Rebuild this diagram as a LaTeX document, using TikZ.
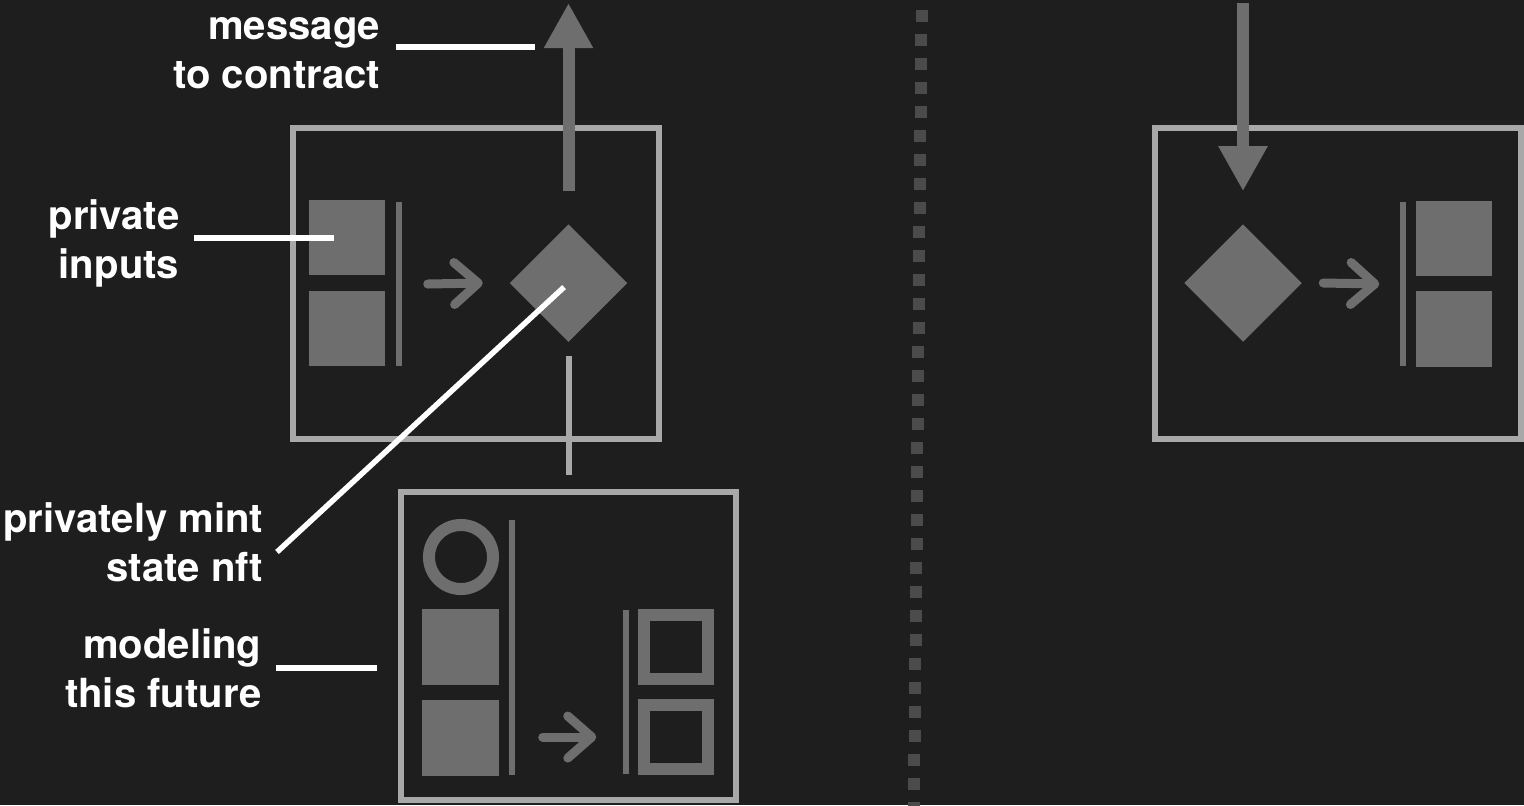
\documentclass[tikz,border=0pt]{standalone}
\usepackage{fontspec}
\newfontfamily\labelfont{TeX Gyre Heros}
\usepackage{xcolor}
\usetikzlibrary{arrows.meta,positioning,shapes.geometric}

\definecolor{bgc}{HTML}{1E1E1E}
\definecolor{framec}{HTML}{A8A8A8}
\definecolor{shapec}{HTML}{6E6E6E}
\definecolor{dotc}{HTML}{4B4B4B}

\begin{document}
\begin{tikzpicture}[x=0.01cm,y=-0.01cm,
  lbl/.style={text=white,font=\labelfont\bfseries\fontsize{11.4pt}{13.8pt}\selectfont,align=right,inner sep=0pt,anchor=base east},
  frame/.style={draw=framec,line width=0.06cm,inner sep=0pt,minimum width=3.66cm,minimum height=3.11cm},
  blk/.style={fill=shapec,inner sep=0pt,minimum width=0.76cm,minimum height=0.76cm},
  hollow/.style={draw=shapec,line width=0.12cm,inner sep=0pt,minimum size=0.64cm},
  bar/.style={fill=shapec,inner sep=0pt,minimum width=0.06cm},
  gem/.style={diamond,fill=shapec,inner sep=0pt,minimum width=1.18cm,minimum height=1.18cm},
  nudge/.style={draw=shapec,line width=0.09cm,line cap=round,-{Straight Barb[round,length=0.24cm,width=0.42cm]}},
  flow/.style={draw=shapec,line width=0.12cm,-{Triangle[length=0.45cm,width=0.46cm]}},
  lead/.style={draw=white,line width=0.055cm},
  link/.style={draw=framec,line width=0.06cm}]
 \fill[bgc] (0,0) rectangle (1524,805);
 \useasboundingbox (0,0) rectangle (1524,805);
 % divider
 \foreach \i in {0,...,33}
   \fill[dotc] ({915.5-7.5*\i/33},{10+24*\i}) rectangle ++(12,12);
 % proving side
 \node[frame] (prove) at (476,283.5) {};
 \node[blk,minimum height=0.75cm] (inP1) at (347,237.5) {};
 \node[blk,minimum height=0.75cm] (inP2) at (347,328.5) {};
 \node[bar,minimum height=1.64cm] (barP) at (398.5,284) {};
 \node[gem] (gemP) at (568.5,283) {};
 \draw[nudge] ([xshift=0.255cm]barP.east) -- ([xshift=-0.26cm]gemP.west);
 \coordinate (msgOut) at (568.5,3);
 \draw[flow,shorten <=0.32cm] (gemP.north) -- (msgOut);
 % modeled future
 \node[frame,minimum width=3.345cm,minimum height=3.08cm] (future) at (568.75,646) {};
 \draw[link,shorten <=0.13cm,shorten >=0.14cm] (gemP.south) -- (gemP.south |- future.north);
 \node[hollow,circle] (nft) at (461,557) {};
 \node[blk,minimum width=0.77cm] (fut1) at (460.5,647) {};
 \node[blk,minimum width=0.77cm] (fut2) at (460.5,738) {};
 \node[bar,minimum height=2.55cm] (barF) at (512,647.5) {};
 \node[bar,minimum height=1.64cm] (barO) at (626,692) {};
 \node[hollow] (out1) at (676,647) {};
 \node[hollow] (out2) at (676,737) {};
 \draw[nudge] ([xshift=0.27cm]barF.east |- out2) -- ([xshift=-0.26cm]barO.west |- out2);
 % verifying side
 \node[frame] (verify) at (1338,283.5) {};
 \node[gem] (gemV) at (1243,283) {};
 \coordinate (msgIn) at (1243,3);
 \draw[flow,shorten >=0.32cm] (msgIn) -- (gemV.north);
 \node[bar,minimum height=1.64cm] (barV) at (1403,284) {};
 \node[blk,minimum height=0.75cm] (outV1) at (1454,238.5) {};
 \node[blk,minimum height=0.75cm] (outV2) at (1454,329) {};
 \draw[nudge] ([xshift=0.205cm]gemV.east) -- ([xshift=-0.2cm]barV.west);
 % labels (base = last line)
 \node[lbl] (msgLbl) at (381,88) {message\\to contract};
 \node[lbl] (privLbl) at (180,278) {private\\inputs};
 \node[lbl] (mintLbl) at (264,581) {privately mint\\state nft};
 \node[lbl] (modLbl) at (262,707) {modeling\\this future};
 \coordinate (msgEnd) at (535,47);
 \coordinate (privEnd) at (334,238);
 \coordinate (mintStart) at (277,552);
 \coordinate (modEnd) at (377,668);
 \draw[lead] ([xshift=0.15cm]msgLbl.east |- msgEnd) -- (msgEnd);
 \draw[lead] ([xshift=0.14cm]privLbl.east |- privEnd) -- (privEnd);
 \draw[lead,shorten >=0.06cm] (mintStart) -- (gemP.center);
 \draw[lead] ([xshift=0.14cm]modLbl.east |- modEnd) -- (modEnd);
\end{tikzpicture}
\end{document}
